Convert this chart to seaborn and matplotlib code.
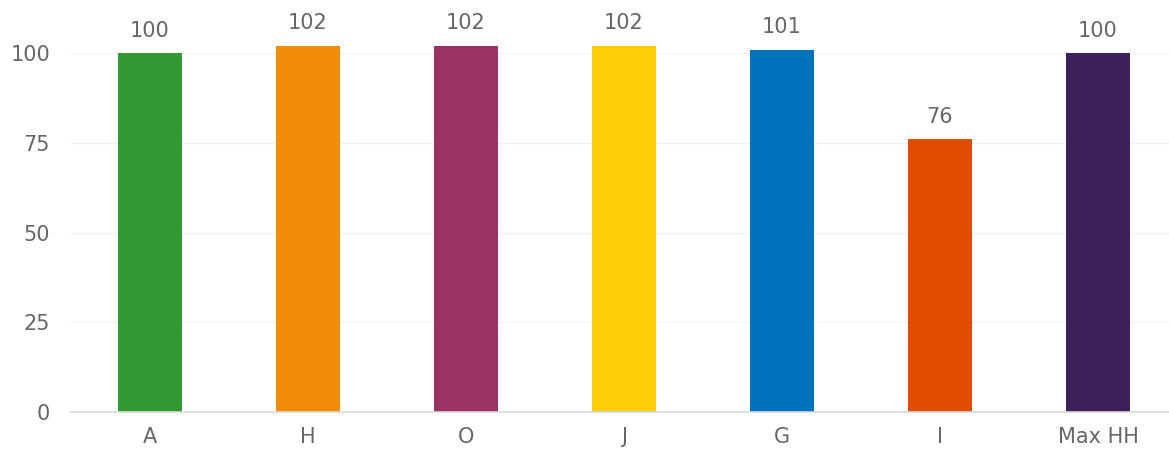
import matplotlib
matplotlib.use("Agg")
import matplotlib.pyplot as plt
import seaborn as sns
import pandas as pd

categories = ["A", "H", "O", "J", "G", "I", "Max HH"]
values = [100, 102, 102, 102, 101, 76, 100]
colors = ["#339933", "#F28C06", "#993366", "#FFCC0A", "#0072BB", "#E04D00", "#3D1F5A"]
y_ticks = [0, 25, 50, 75, 100]

sns.set_style("white")
plt.rcParams["font.family"] = ["DejaVu Sans"]

df = pd.DataFrame({"cat": categories, "val": values})

fig = plt.figure(figsize=(11.69, 4.5), dpi=100)
ax = fig.add_axes([71 / 1169, 38 / 450, 1106 / 1169, 412 / 450])

sns.barplot(data=df, x="cat", y="val", hue="cat", palette=colors,
            width=0.405, legend=False, ax=ax, saturation=1, linewidth=0)

for i, v in enumerate(values):
    ax.annotate(str(v), (i, v), xytext=(0, 9), textcoords="offset points",
                ha="center", va="bottom", fontsize=15, color="#666666")

ax.set_ylim(0, 114.8)
ax.set_xlim(-0.5, len(categories) - 0.5)
ax.set_yticks(y_ticks)
ax.yaxis.grid(True, color="#F2F2F2", linewidth=1)
ax.set_axisbelow(True)
for s in ["top", "right", "left"]:
    ax.spines[s].set_visible(False)
ax.spines["bottom"].set_color("#D9D9D9")
ax.spines["bottom"].set_linewidth(1.2)
ax.tick_params(axis="y", length=0, pad=15, labelsize=15, labelcolor="#666666")
ax.tick_params(axis="x", length=0, pad=11, labelsize=15, labelcolor="#666666")
ax.set_xlabel("")
ax.set_ylabel("")

fig.savefig("out.png", dpi=100)
